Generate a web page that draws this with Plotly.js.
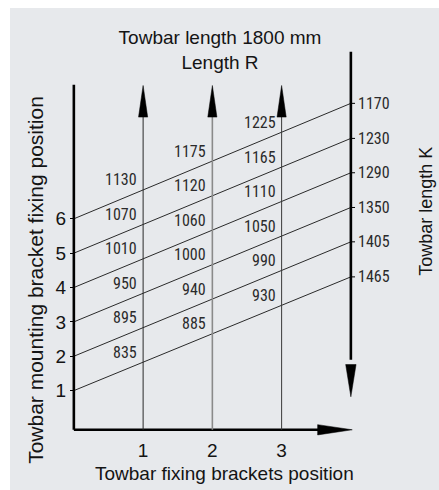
<!DOCTYPE html>
<html>
<head>
<meta charset="utf-8">
<script src="https://cdn.plot.ly/plotly-3.0.1.min.js"></script>
<style>
  html, body { margin: 0; padding: 0; background: #ffffff; width: 439px; height: 490px; overflow: hidden; }
  #chart { position: absolute; left: 10px; top: 8px; width: 429px; height: 482px; }
</style>
</head>
<body>
<div id="chart"></div>
<script>
// ---- data ----
const mountingPositions = [1, 2, 3, 4, 5, 6];                 // left axis (line start)
const lineEndY = [4.31, 5.33, 6.33, 7.34, 8.34, 9.36];        // where each line meets the right axis
const bracketPositions = [1, 2, 3];                           // bottom axis / vertical arrows
const lengthR_pos1 = [835, 895, 950, 1010, 1070, 1130];
const lengthR_pos2 = [885, 940, 1000, 1060, 1120, 1175];
const lengthR_pos3 = [930, 990, 1050, 1110, 1165, 1225];
const towbarLengthK = [1465, 1405, 1350, 1290, 1230, 1170];
const xTickLabels = ['1', '2', '3'];
const yTickLabels = ['1', '2', '3', '4', '5', '6'];

// ---- styles ----
const BG = '#e7e9ec';
const INK = '#141414';
const NARROW = '"Liberation Sans Narrow", "Arial Narrow", "Roboto Condensed", "DejaVu Sans Condensed", sans-serif';
const SANS = '"Liberation Sans", Arial, Helvetica, sans-serif';
const X_END = 4;
const X_MIN = -0.2, X_MAX = 4.204;

function yOnLine(i, x) {
  return mountingPositions[i] + (lineEndY[i] - mountingPositions[i]) * x / X_END;
}

const traces = [];
// diagonal lines
mountingPositions.forEach((y0, i) => {
  traces.push({
    x: [0, X_END], y: [y0, lineEndY[i]], mode: 'lines', type: 'scatter',
    line: { color: '#2a2a2a', width: 1 }, hoverinfo: 'skip', showlegend: false
  });
});

const shapes = [];
const AX_W = 2.6;
const yBottom = -0.14;
// left axis
shapes.push({ type: 'line', xref: 'x', yref: 'y', x0: 0, x1: 0, y0: yBottom, y1: 9.9, line: { color: '#000', width: AX_W } });
// bottom axis + arrowhead
shapes.push({ type: 'line', xref: 'x', yref: 'y', x0: 0, x1: 3.6, y0: yBottom, y1: yBottom, line: { color: '#000', width: AX_W } });
shapes.push({ type: 'path', xref: 'x', yref: 'y', path: `M 3.52 ${yBottom - 0.15} L 4.02 ${yBottom} L 3.52 ${yBottom + 0.15} Z`, fillcolor: '#000', line: { color: '#000', width: 0.5 } });
// right axis + downward arrowhead
shapes.push({ type: 'line', xref: 'x', yref: 'y', x0: X_END, x1: X_END, y0: 10.86, y1: 1.9, line: { color: '#000', width: AX_W } });
shapes.push({ type: 'path', xref: 'x', yref: 'y', path: `M ${X_END - 0.075} 1.76 L ${X_END} 0.82 L ${X_END + 0.075} 1.76 Z`, fillcolor: '#000', line: { color: '#000', width: 0.5 } });
// right axis small ticks
lineEndY.forEach(y => {
  shapes.push({ type: 'line', xref: 'x', yref: 'y', x0: X_END, x1: X_END + 0.06, y0: y, y1: y, line: { color: '#000', width: 1 } });
});
// vertical arrows
const vColors = ['#2a2a2a', '#8a8a8a', '#3a3a3a'];
const vWidths = [1, 1.6, 1];
bracketPositions.forEach((x, j) => {
  shapes.push({ type: 'line', xref: 'x', yref: 'y', x0: x, x1: x, y0: yBottom, y1: 9.0, line: { color: vColors[j], width: vWidths[j] } });
  shapes.push({ type: 'path', xref: 'x', yref: 'y', path: `M ${x - 0.066} 8.96 L ${x} 9.88 L ${x + 0.066} 8.96 Z`, fillcolor: '#000', line: { color: '#000', width: 0.5 } });
});

const annotations = [];
const columns = [lengthR_pos1, lengthR_pos2, lengthR_pos3];
columns.forEach((vals, j) => {
  const x = bracketPositions[j];
  vals.forEach((v, i) => {
    annotations.push({
      x: x, y: yOnLine(i, x), xref: 'x', yref: 'y', text: String(v), showarrow: false,
      xanchor: 'right', yanchor: 'middle', xshift: -4, yshift: 10,
      font: { family: NARROW, size: 16, color: '#2b2b2b' }
    });
  });
});
towbarLengthK.forEach((v, i) => {
  annotations.push({
    x: X_END, y: lineEndY[i], xref: 'x', yref: 'y', text: String(v), showarrow: false,
    xanchor: 'left', yanchor: 'middle', xshift: 5, yshift: 0,
    font: { family: NARROW, size: 16, color: '#2b2b2b' }
  });
});
// axis titles (placed in data x / paper y)
annotations.push({
  xref: 'x', yref: 'paper', x: (225 - 74) / 69.25, y: 0, yshift: -36,
  text: 'Towbar fixing brackets position', showarrow: false,
  xanchor: 'center', yanchor: 'middle', font: { family: SANS, size: 19, color: INK }
});
annotations.push({
  xref: 'x', yref: 'paper', x: 0, xshift: -39, y: 0.5, yshift: -38,
  text: 'Towbar mounting bracket fixing position', showarrow: false, textangle: -90,
  xanchor: 'center', yanchor: 'middle', font: { family: SANS, size: 21, color: INK }
});
annotations.push({
  xref: 'x', yref: 'paper', x: X_END, xshift: 75, y: 0.5, yshift: 31,
  text: 'Towbar length K', showarrow: false, textangle: -90,
  xanchor: 'center', yanchor: 'middle', font: { family: SANS, size: 18, color: INK }
});

const layout = {
  width: 429, height: 482,
  paper_bgcolor: BG, plot_bgcolor: BG,
  margin: { l: 50, r: 74, t: 39, b: 53, pad: 0 },
  title: {
    text: 'Towbar length 1800 mm<br>Length R',
    xref: 'container', yref: 'container', x: (220 - 10) / 429, xanchor: 'center',
    y: 1 - 36 / 482, yanchor: 'middle',
    font: { family: SANS, size: 19, color: INK }
  },
  xaxis: {
    range: [X_MIN, X_MAX], showgrid: false, zeroline: false, showline: false,
    tickmode: 'array', tickvals: bracketPositions, ticktext: xTickLabels,
    ticks: '', tickfont: { family: SANS, size: 19, color: INK }, fixedrange: true
  },
  yaxis: {
    range: [-0.35, 11], showgrid: false, zeroline: false, showline: false,
    anchor: 'free', position: (0 - X_MIN) / (X_MAX - X_MIN),
    tickmode: 'array', tickvals: mountingPositions, ticktext: yTickLabels,
    ticks: 'outside', ticklen: 4, tickwidth: 1, tickcolor: '#000',
    tickfont: { family: SANS, size: 19, color: INK }, fixedrange: true
  },
  shapes: shapes,
  annotations: annotations,
  showlegend: false
};

Plotly.newPlot('chart', traces, layout, { displayModeBar: false, staticPlot: true });
</script>
</body>
</html>
